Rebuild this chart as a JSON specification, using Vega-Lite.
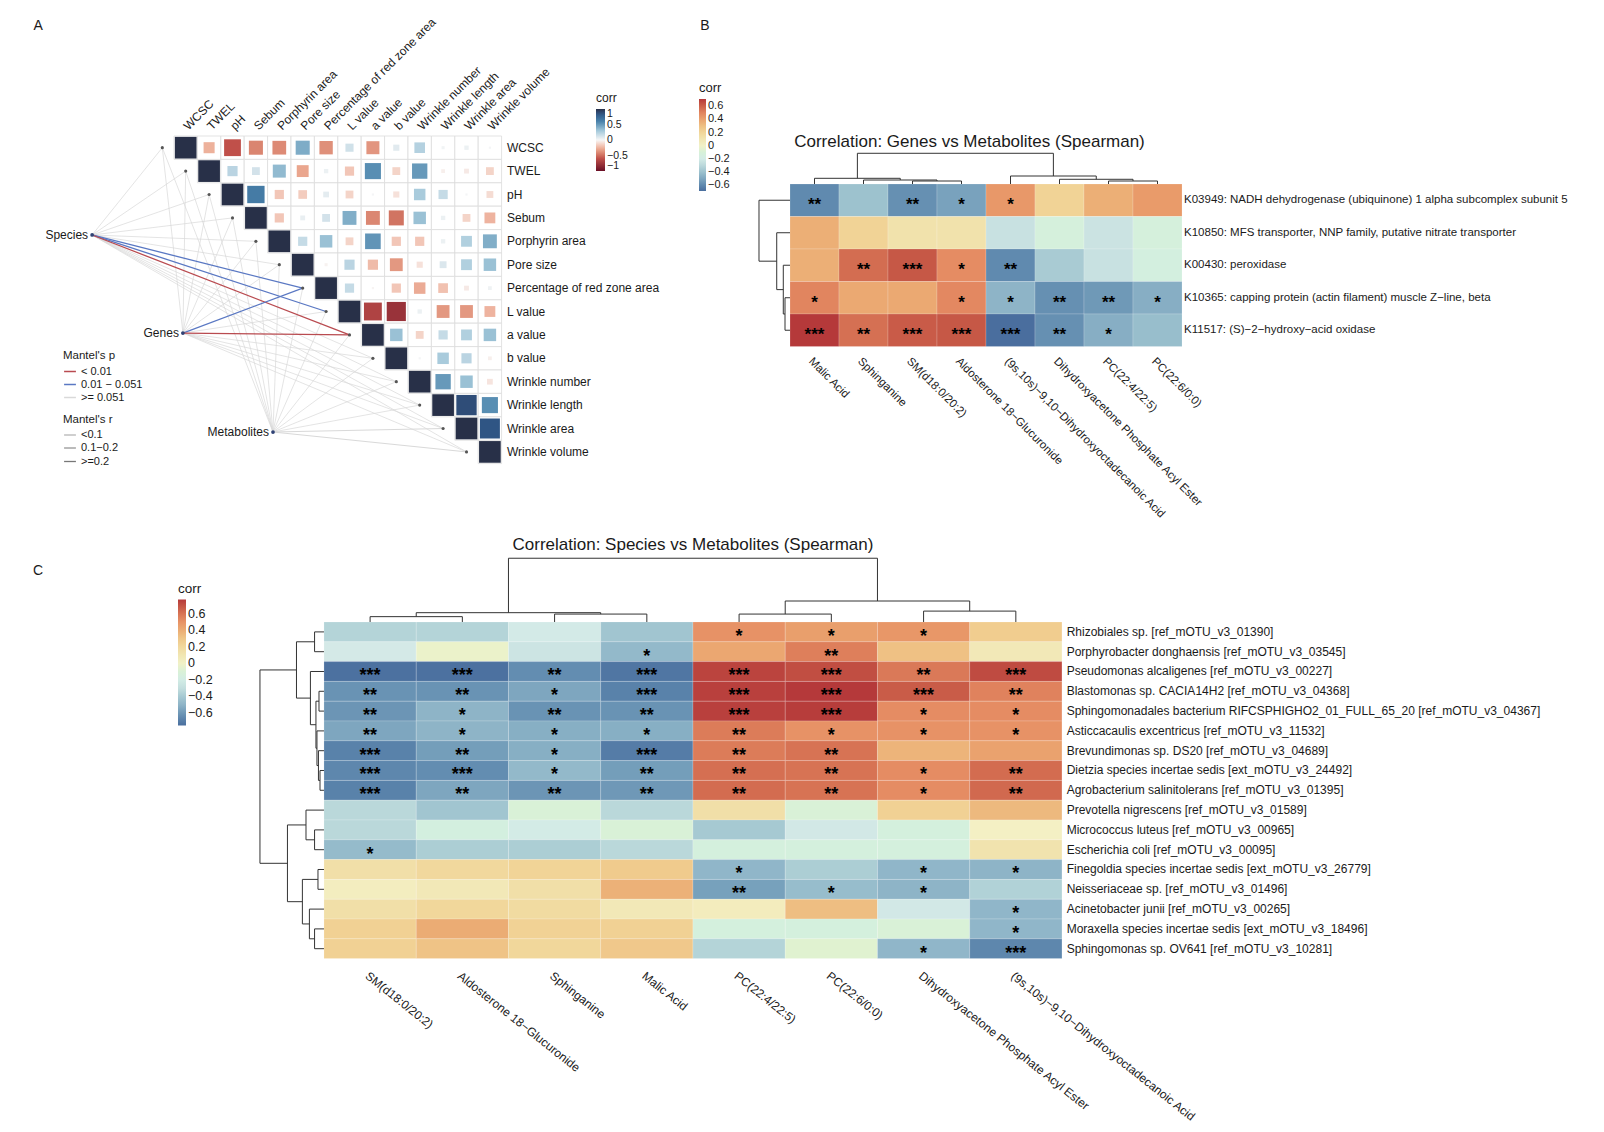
{
"$schema":"https://vega.github.io/schema/vega-lite/v6.json",
"padding":0,
"background":"white",
"spacing":0,
"config":{"view":{"stroke":null},"font":"Liberation Sans","text":{"font":"Liberation Sans","color":"#1a1a1a"},"legend":{"labelFont":"Liberation Sans","titleFont":"Liberation Sans","labelColor":"#1a1a1a","titleColor":"#1a1a1a"}},
"datasets":{
"avars":[{"var":"WCSC","i":0,"ax":-1},{"var":"TWEL","i":1,"ax":0},{"var":"pH","i":2,"ax":1},{"var":"Sebum","i":3,"ax":2},{"var":"Porphyrin area","i":4,"ax":3},{"var":"Pore size","i":5,"ax":4},{"var":"Percentage of red zone area","i":6,"ax":5},{"var":"L value","i":7,"ax":6},{"var":"a value","i":8,"ax":7},{"var":"b value","i":9,"ax":8},{"var":"Wrinkle number","i":10,"ax":9},{"var":"Wrinkle length","i":11,"ax":10},{"var":"Wrinkle area","i":12,"ax":11},{"var":"Wrinkle volume","i":13,"ax":12}],
"mnodes":[{"f":"Species","nx":-4.0,"ny":3.73},{"f":"Genes","nx":-0.12,"ny":7.92},{"f":"Metabolites","nx":3.73,"ny":12.15}],
"amat":[
{"i":0,"j":0,"r":1},{"i":1,"j":1,"r":1},{"i":2,"j":2,"r":1},{"i":3,"j":3,"r":1},{"i":4,"j":4,"r":1},{"i":5,"j":5,"r":1},{"i":6,"j":6,"r":1},{"i":7,"j":7,"r":1},{"i":8,"j":8,"r":1},{"i":9,"j":9,"r":1},{"i":10,"j":10,"r":1},{"i":11,"j":11,"r":1},{"i":12,"j":12,"r":1},{"i":13,"j":13,"r":1},
{"i":0,"j":1,"r":-0.26},{"i":0,"j":2,"r":-0.6},{"i":0,"j":3,"r":-0.42},{"i":0,"j":4,"r":-0.4},{"i":0,"j":5,"r":0.42},{"i":0,"j":6,"r":-0.38},{"i":0,"j":7,"r":0.14},{"i":0,"j":8,"r":-0.36},{"i":0,"j":9,"r":0.08},{"i":0,"j":10,"r":0.24},{"i":0,"j":11,"r":0.02},{"i":0,"j":12,"r":0.04},{"i":0,"j":13,"r":0.01},
{"i":1,"j":2,"r":0.22},{"i":1,"j":3,"r":0.13},{"i":1,"j":4,"r":0.36},{"i":1,"j":5,"r":-0.3},{"i":1,"j":6,"r":0.04},{"i":1,"j":7,"r":-0.18},{"i":1,"j":8,"r":0.55},{"i":1,"j":9,"r":-0.13},{"i":1,"j":10,"r":0.5},{"i":1,"j":11,"r":-0.03},{"i":1,"j":12,"r":-0.05},{"i":1,"j":13,"r":-0.13},
{"i":2,"j":3,"r":0.64},{"i":2,"j":4,"r":-0.18},{"i":2,"j":5,"r":-0.16},{"i":2,"j":6,"r":0.07},{"i":2,"j":7,"r":-0.13},{"i":2,"j":8,"r":0.01},{"i":2,"j":9,"r":-0.08},{"i":2,"j":10,"r":0.28},{"i":2,"j":11,"r":0.18},{"i":2,"j":12,"r":0.01},{"i":2,"j":13,"r":-0.1},
{"i":3,"j":4,"r":-0.18},{"i":3,"j":5,"r":0.05},{"i":3,"j":6,"r":0.13},{"i":3,"j":7,"r":0.41},{"i":3,"j":8,"r":-0.41},{"i":3,"j":9,"r":-0.48},{"i":3,"j":10,"r":0.33},{"i":3,"j":11,"r":0.04},{"i":3,"j":12,"r":-0.13},{"i":3,"j":13,"r":-0.25},
{"i":4,"j":5,"r":0.18},{"i":4,"j":6,"r":0.33},{"i":4,"j":7,"r":-0.13},{"i":4,"j":8,"r":0.52},{"i":4,"j":9,"r":-0.18},{"i":4,"j":10,"r":-0.18},{"i":4,"j":11,"r":0.04},{"i":4,"j":12,"r":0.25},{"i":4,"j":13,"r":0.41},
{"i":5,"j":6,"r":-0.02},{"i":5,"j":7,"r":0.22},{"i":5,"j":8,"r":-0.22},{"i":5,"j":9,"r":-0.35},{"i":5,"j":10,"r":-0.08},{"i":5,"j":11,"r":0.1},{"i":5,"j":12,"r":0.25},{"i":5,"j":13,"r":0.33},
{"i":6,"j":7,"r":0.18},{"i":6,"j":8,"r":-0.01},{"i":6,"j":9,"r":-0.18},{"i":6,"j":10,"r":-0.28},{"i":6,"j":11,"r":-0.2},{"i":6,"j":12,"r":-0.05},{"i":6,"j":13,"r":0.03},
{"i":7,"j":8,"r":-0.68},{"i":7,"j":9,"r":-0.78},{"i":7,"j":10,"r":0.04},{"i":7,"j":11,"r":-0.35},{"i":7,"j":12,"r":-0.35},{"i":7,"j":13,"r":-0.25},
{"i":8,"j":9,"r":0.33},{"i":8,"j":10,"r":-0.13},{"i":8,"j":11,"r":0.18},{"i":8,"j":12,"r":0.25},{"i":8,"j":13,"r":0.33},
{"i":9,"j":10,"r":0.01},{"i":9,"j":11,"r":0.28},{"i":9,"j":12,"r":0.22},{"i":9,"j":13,"r":-0.03},
{"i":10,"j":11,"r":0.5},{"i":10,"j":12,"r":0.33},{"i":10,"j":13,"r":-0.07},
{"i":11,"j":12,"r":0.88},{"i":11,"j":13,"r":0.55},
{"i":12,"j":13,"r":0.85}],
"mantel":[
{"f":"Species","t":"WCSC","p":">= 0.051","w":"<0.1"},{"f":"Species","t":"TWEL","p":">= 0.051","w":"<0.1"},{"f":"Species","t":"pH","p":">= 0.051","w":"<0.1"},{"f":"Species","t":"Sebum","p":">= 0.051","w":"<0.1"},{"f":"Species","t":"Porphyrin area","p":">= 0.051","w":"<0.1"},{"f":"Species","t":"Pore size","p":">= 0.051","w":"<0.1"},{"f":"Species","t":"b value","p":">= 0.051","w":"<0.1"},{"f":"Species","t":"Wrinkle number","p":">= 0.051","w":"<0.1"},{"f":"Species","t":"Wrinkle length","p":">= 0.051","w":"<0.1"},{"f":"Species","t":"Wrinkle area","p":">= 0.051","w":"<0.1"},{"f":"Species","t":"Wrinkle volume","p":">= 0.051","w":"<0.1"},
{"f":"Genes","t":"WCSC","p":">= 0.051","w":"<0.1"},{"f":"Genes","t":"TWEL","p":">= 0.051","w":"<0.1"},{"f":"Genes","t":"pH","p":">= 0.051","w":"<0.1"},{"f":"Genes","t":"Sebum","p":">= 0.051","w":"<0.1"},{"f":"Genes","t":"Porphyrin area","p":">= 0.051","w":"<0.1"},{"f":"Genes","t":"Pore size","p":">= 0.051","w":"<0.1"},{"f":"Genes","t":"L value","p":">= 0.051","w":"<0.1"},{"f":"Genes","t":"b value","p":">= 0.051","w":"<0.1"},{"f":"Genes","t":"Wrinkle number","p":">= 0.051","w":"<0.1"},{"f":"Genes","t":"Wrinkle length","p":">= 0.051","w":"<0.1"},{"f":"Genes","t":"Wrinkle area","p":">= 0.051","w":"<0.1"},{"f":"Genes","t":"Wrinkle volume","p":">= 0.051","w":"<0.1"},
{"f":"Metabolites","t":"WCSC","p":">= 0.051","w":"<0.1"},{"f":"Metabolites","t":"TWEL","p":">= 0.051","w":"<0.1"},{"f":"Metabolites","t":"pH","p":">= 0.051","w":"<0.1"},{"f":"Metabolites","t":"Sebum","p":">= 0.051","w":"<0.1"},{"f":"Metabolites","t":"Porphyrin area","p":">= 0.051","w":"<0.1"},{"f":"Metabolites","t":"Pore size","p":">= 0.051","w":"<0.1"},{"f":"Metabolites","t":"Percentage of red zone area","p":">= 0.051","w":"<0.1"},{"f":"Metabolites","t":"L value","p":">= 0.051","w":"<0.1"},{"f":"Metabolites","t":"a value","p":">= 0.051","w":"<0.1"},{"f":"Metabolites","t":"b value","p":">= 0.051","w":"<0.1"},{"f":"Metabolites","t":"Wrinkle number","p":">= 0.051","w":"<0.1"},{"f":"Metabolites","t":"Wrinkle length","p":">= 0.051","w":"<0.1"},{"f":"Metabolites","t":"Wrinkle area","p":">= 0.051","w":"0.1−0.2"},{"f":"Metabolites","t":"Wrinkle volume","p":">= 0.051","w":"0.1−0.2"},
{"f":"Species","t":"Percentage of red zone area","p":"0.01 − 0.051","w":">=0.2"},{"f":"Species","t":"L value","p":"0.01 − 0.051","w":">=0.2"},{"f":"Species","t":"a value","p":"< 0.01","w":">=0.2"},
{"f":"Genes","t":"Percentage of red zone area","p":"0.01 − 0.051","w":">=0.2"},{"f":"Genes","t":"a value","p":"< 0.01","w":">=0.2"}],
"brows":[{"n":"K03949: NADH dehydrogenase (ubiquinone) 1 alpha subcomplex subunit 5","ri":0},{"n":"K10850: MFS transporter, NNP family, putative nitrate transporter","ri":1},{"n":"K00430: peroxidase","ri":2},{"n":"K10365: capping protein (actin filament) muscle Z−line, beta","ri":3},{"n":"K11517: (S)−2−hydroxy−acid oxidase","ri":4}],
"bcols":[{"n":"Malic Acid","ci":0},{"n":"Sphinganine","ci":1},{"n":"SM(d18:0/20:2)","ci":2},{"n":"Aldosterone 18−Glucuronide","ci":3},{"n":"(9s,10s)−9,10−Dihydroxyoctadecanoic Acid","ci":4},{"n":"Dihydroxyacetone Phosphate Acyl Ester","ci":5},{"n":"PC(22:4/22:5)","ci":6},{"n":"PC(22:6/0:0)","ci":7}],
"bcells":[
{"ri":0,"ci":0,"v":-0.6,"s":"**"},{"ri":0,"ci":1,"v":-0.4,"s":""},{"ri":0,"ci":2,"v":-0.58,"s":"**"},{"ri":0,"ci":3,"v":-0.52,"s":"*"},{"ri":0,"ci":4,"v":0.44,"s":"*"},{"ri":0,"ci":5,"v":0.22,"s":""},{"ri":0,"ci":6,"v":0.36,"s":""},{"ri":0,"ci":7,"v":0.43,"s":""},
{"ri":1,"ci":0,"v":0.36,"s":""},{"ri":1,"ci":1,"v":0.22,"s":""},{"ri":1,"ci":2,"v":0.12,"s":""},{"ri":1,"ci":3,"v":0.12,"s":""},{"ri":1,"ci":4,"v":-0.26,"s":""},{"ri":1,"ci":5,"v":-0.12,"s":""},{"ri":1,"ci":6,"v":-0.25,"s":""},{"ri":1,"ci":7,"v":-0.12,"s":""},
{"ri":2,"ci":0,"v":0.36,"s":""},{"ri":2,"ci":1,"v":0.57,"s":"**"},{"ri":2,"ci":2,"v":0.63,"s":"***"},{"ri":2,"ci":3,"v":0.48,"s":"*"},{"ri":2,"ci":4,"v":-0.6,"s":"**"},{"ri":2,"ci":5,"v":-0.36,"s":""},{"ri":2,"ci":6,"v":-0.26,"s":""},{"ri":2,"ci":7,"v":-0.14,"s":""},
{"ri":3,"ci":0,"v":0.5,"s":"*"},{"ri":3,"ci":1,"v":0.38,"s":""},{"ri":3,"ci":2,"v":0.38,"s":""},{"ri":3,"ci":3,"v":0.49,"s":"*"},{"ri":3,"ci":4,"v":-0.46,"s":"*"},{"ri":3,"ci":5,"v":-0.58,"s":"**"},{"ri":3,"ci":6,"v":-0.55,"s":"**"},{"ri":3,"ci":7,"v":-0.48,"s":"*"},
{"ri":4,"ci":0,"v":0.71,"s":"***"},{"ri":4,"ci":1,"v":0.56,"s":"**"},{"ri":4,"ci":2,"v":0.62,"s":"***"},{"ri":4,"ci":3,"v":0.63,"s":"***"},{"ri":4,"ci":4,"v":-0.69,"s":"***"},{"ri":4,"ci":5,"v":-0.58,"s":"**"},{"ri":4,"ci":6,"v":-0.48,"s":"*"},{"ri":4,"ci":7,"v":-0.42,"s":""}],
"bcd":[{"a":2,"b":3,"ha":-0.5,"hb":-0.5,"h":-0.592},{"a":1,"b":2.5,"ha":-0.5,"hb":-0.592,"h":-0.623},{"a":0,"b":1.75,"ha":-0.5,"hb":-0.623,"h":-0.675},{"a":6,"b":7,"ha":-0.5,"hb":-0.5,"h":-0.592},{"a":5,"b":6.5,"ha":-0.5,"hb":-0.592,"h":-0.645},{"a":4,"b":5.75,"ha":-0.5,"hb":-0.645,"h":-0.746},{"a":0.875,"b":4.875,"ha":-0.675,"hb":-0.746,"h":-1.445}],
"brd":[{"a":3,"b":4,"ha":-0.5,"hb":-0.5,"h":-0.602},{"a":2,"b":3.5,"ha":-0.5,"hb":-0.602,"h":-0.637},{"a":1,"b":2.75,"ha":-0.5,"hb":-0.637,"h":-0.771},{"a":0,"b":1.875,"ha":-0.5,"hb":-0.771,"h":-1.133}],
"crows":[{"n":"Rhizobiales sp. [ref_mOTU_v3_01390]","ri":0},{"n":"Porphyrobacter donghaensis [ref_mOTU_v3_03545]","ri":1},{"n":"Pseudomonas alcaligenes [ref_mOTU_v3_00227]","ri":2},{"n":"Blastomonas sp. CACIA14H2 [ref_mOTU_v3_04368]","ri":3},{"n":"Sphingomonadales bacterium RIFCSPHIGHO2_01_FULL_65_20 [ref_mOTU_v3_04367]","ri":4},{"n":"Asticcacaulis excentricus [ref_mOTU_v3_11532]","ri":5},{"n":"Brevundimonas sp. DS20 [ref_mOTU_v3_04689]","ri":6},{"n":"Dietzia species incertae sedis [ext_mOTU_v3_24492]","ri":7},{"n":"Agrobacterium salinitolerans [ref_mOTU_v3_01395]","ri":8},{"n":"Prevotella nigrescens [ref_mOTU_v3_01589]","ri":9},{"n":"Micrococcus luteus [ref_mOTU_v3_00965]","ri":10},{"n":"Escherichia coli [ref_mOTU_v3_00095]","ri":11},{"n":"Finegoldia species incertae sedis [ext_mOTU_v3_26779]","ri":12},{"n":"Neisseriaceae sp. [ref_mOTU_v3_01496]","ri":13},{"n":"Acinetobacter junii [ref_mOTU_v3_00265]","ri":14},{"n":"Moraxella species incertae sedis [ext_mOTU_v3_18496]","ri":15},{"n":"Sphingomonas sp. OV641 [ref_mOTU_v3_10281]","ri":16}],
"ccols":[{"n":"SM(d18:0/20:2)","ci":0},{"n":"Aldosterone 18−Glucuronide","ci":1},{"n":"Sphinganine","ci":2},{"n":"Malic Acid","ci":3},{"n":"PC(22:4/22:5)","ci":4},{"n":"PC(22:6/0:0)","ci":5},{"n":"Dihydroxyacetone Phosphate Acyl Ester","ci":6},{"n":"(9s,10s)−9,10−Dihydroxyoctadecanoic Acid","ci":7}],
"ccells":[
{"ri":0,"ci":0,"v":-0.35,"s":""},{"ri":0,"ci":1,"v":-0.35,"s":""},{"ri":0,"ci":2,"v":-0.23,"s":""},{"ri":0,"ci":3,"v":-0.42,"s":""},{"ri":0,"ci":4,"v":0.5,"s":"*"},{"ri":0,"ci":5,"v":0.45,"s":"*"},{"ri":0,"ci":6,"v":0.48,"s":"*"},{"ri":0,"ci":7,"v":0.27,"s":""},
{"ri":1,"ci":0,"v":-0.24,"s":""},{"ri":1,"ci":1,"v":-0.02,"s":""},{"ri":1,"ci":2,"v":-0.27,"s":""},{"ri":1,"ci":3,"v":-0.48,"s":"*"},{"ri":1,"ci":4,"v":0.42,"s":""},{"ri":1,"ci":5,"v":0.56,"s":"**"},{"ri":1,"ci":6,"v":0.32,"s":""},{"ri":1,"ci":7,"v":0.08,"s":""},
{"ri":2,"ci":0,"v":-0.74,"s":"***"},{"ri":2,"ci":1,"v":-0.74,"s":"***"},{"ri":2,"ci":2,"v":-0.64,"s":"**"},{"ri":2,"ci":3,"v":-0.72,"s":"***"},{"ri":2,"ci":4,"v":0.74,"s":"***"},{"ri":2,"ci":5,"v":0.71,"s":"***"},{"ri":2,"ci":6,"v":0.58,"s":"**"},{"ri":2,"ci":7,"v":0.72,"s":"***"},
{"ri":3,"ci":0,"v":-0.62,"s":"**"},{"ri":3,"ci":1,"v":-0.62,"s":"**"},{"ri":3,"ci":2,"v":-0.55,"s":"*"},{"ri":3,"ci":3,"v":-0.68,"s":"***"},{"ri":3,"ci":4,"v":0.75,"s":"***"},{"ri":3,"ci":5,"v":0.77,"s":"***"},{"ri":3,"ci":6,"v":0.67,"s":"***"},{"ri":3,"ci":7,"v":0.55,"s":"**"},
{"ri":4,"ci":0,"v":-0.61,"s":"**"},{"ri":4,"ci":1,"v":-0.5,"s":"*"},{"ri":4,"ci":2,"v":-0.62,"s":"**"},{"ri":4,"ci":3,"v":-0.62,"s":"**"},{"ri":4,"ci":4,"v":0.75,"s":"***"},{"ri":4,"ci":5,"v":0.76,"s":"***"},{"ri":4,"ci":6,"v":0.52,"s":"*"},{"ri":4,"ci":7,"v":0.52,"s":"*"},
{"ri":5,"ci":0,"v":-0.55,"s":"**"},{"ri":5,"ci":1,"v":-0.5,"s":"*"},{"ri":5,"ci":2,"v":-0.52,"s":"*"},{"ri":5,"ci":3,"v":-0.52,"s":"*"},{"ri":5,"ci":4,"v":0.57,"s":"**"},{"ri":5,"ci":5,"v":0.5,"s":"*"},{"ri":5,"ci":6,"v":0.5,"s":"*"},{"ri":5,"ci":7,"v":0.5,"s":"*"},
{"ri":6,"ci":0,"v":-0.68,"s":"***"},{"ri":6,"ci":1,"v":-0.58,"s":"**"},{"ri":6,"ci":2,"v":-0.52,"s":"*"},{"ri":6,"ci":3,"v":-0.7,"s":"***"},{"ri":6,"ci":4,"v":0.57,"s":"**"},{"ri":6,"ci":5,"v":0.6,"s":"**"},{"ri":6,"ci":6,"v":0.37,"s":""},{"ri":6,"ci":7,"v":0.44,"s":""},
{"ri":7,"ci":0,"v":-0.66,"s":"***"},{"ri":7,"ci":1,"v":-0.64,"s":"***"},{"ri":7,"ci":2,"v":-0.48,"s":"*"},{"ri":7,"ci":3,"v":-0.58,"s":"**"},{"ri":7,"ci":4,"v":0.61,"s":"**"},{"ri":7,"ci":5,"v":0.6,"s":"**"},{"ri":7,"ci":6,"v":0.52,"s":"*"},{"ri":7,"ci":7,"v":0.62,"s":"**"},
{"ri":8,"ci":0,"v":-0.68,"s":"***"},{"ri":8,"ci":1,"v":-0.55,"s":"**"},{"ri":8,"ci":2,"v":-0.61,"s":"**"},{"ri":8,"ci":3,"v":-0.6,"s":"**"},{"ri":8,"ci":4,"v":0.62,"s":"**"},{"ri":8,"ci":5,"v":0.6,"s":"**"},{"ri":8,"ci":6,"v":0.52,"s":"*"},{"ri":8,"ci":7,"v":0.63,"s":"**"},
{"ri":9,"ci":0,"v":-0.33,"s":""},{"ri":9,"ci":1,"v":-0.42,"s":""},{"ri":9,"ci":2,"v":-0.1,"s":""},{"ri":9,"ci":3,"v":-0.33,"s":""},{"ri":9,"ci":4,"v":0.15,"s":""},{"ri":9,"ci":5,"v":-0.1,"s":""},{"ri":9,"ci":6,"v":0.25,"s":""},{"ri":9,"ci":7,"v":0.35,"s":""},
{"ri":10,"ci":0,"v":-0.33,"s":""},{"ri":10,"ci":1,"v":-0.15,"s":""},{"ri":10,"ci":2,"v":-0.22,"s":""},{"ri":10,"ci":3,"v":-0.1,"s":""},{"ri":10,"ci":4,"v":-0.4,"s":""},{"ri":10,"ci":5,"v":-0.25,"s":""},{"ri":10,"ci":6,"v":-0.14,"s":""},{"ri":10,"ci":7,"v":0.02,"s":""},
{"ri":11,"ci":0,"v":-0.47,"s":"*"},{"ri":11,"ci":1,"v":-0.38,"s":""},{"ri":11,"ci":2,"v":-0.38,"s":""},{"ri":11,"ci":3,"v":-0.33,"s":""},{"ri":11,"ci":4,"v":-0.14,"s":""},{"ri":11,"ci":5,"v":-0.14,"s":""},{"ri":11,"ci":6,"v":-0.14,"s":""},{"ri":11,"ci":7,"v":0.12,"s":""},
{"ri":12,"ci":0,"v":0.15,"s":""},{"ri":12,"ci":1,"v":0.2,"s":""},{"ri":12,"ci":2,"v":0.23,"s":""},{"ri":12,"ci":3,"v":0.28,"s":""},{"ri":12,"ci":4,"v":-0.49,"s":"*"},{"ri":12,"ci":5,"v":-0.38,"s":""},{"ri":12,"ci":6,"v":-0.49,"s":"*"},{"ri":12,"ci":7,"v":-0.5,"s":"*"},
{"ri":13,"ci":0,"v":0.04,"s":""},{"ri":13,"ci":1,"v":0.08,"s":""},{"ri":13,"ci":2,"v":0.15,"s":""},{"ri":13,"ci":3,"v":0.38,"s":""},{"ri":13,"ci":4,"v":-0.57,"s":"**"},{"ri":13,"ci":5,"v":-0.46,"s":"*"},{"ri":13,"ci":6,"v":-0.5,"s":"*"},{"ri":13,"ci":7,"v":-0.36,"s":""},
{"ri":14,"ci":0,"v":0.15,"s":""},{"ri":14,"ci":1,"v":0.21,"s":""},{"ri":14,"ci":2,"v":0.18,"s":""},{"ri":14,"ci":3,"v":0.08,"s":""},{"ri":14,"ci":4,"v":0.05,"s":""},{"ri":14,"ci":5,"v":0.33,"s":""},{"ri":14,"ci":6,"v":-0.25,"s":""},{"ri":14,"ci":7,"v":-0.49,"s":"*"},
{"ri":15,"ci":0,"v":0.25,"s":""},{"ri":15,"ci":1,"v":0.4,"s":""},{"ri":15,"ci":2,"v":0.24,"s":""},{"ri":15,"ci":3,"v":0.25,"s":""},{"ri":15,"ci":4,"v":-0.14,"s":""},{"ri":15,"ci":5,"v":-0.14,"s":""},{"ri":15,"ci":6,"v":-0.1,"s":""},{"ri":15,"ci":7,"v":-0.49,"s":"*"},
{"ri":16,"ci":0,"v":0.25,"s":""},{"ri":16,"ci":1,"v":0.31,"s":""},{"ri":16,"ci":2,"v":0.21,"s":""},{"ri":16,"ci":3,"v":0.29,"s":""},{"ri":16,"ci":4,"v":-0.35,"s":""},{"ri":16,"ci":5,"v":-0.06,"s":""},{"ri":16,"ci":6,"v":-0.49,"s":"*"},{"ri":16,"ci":7,"v":-0.66,"s":"***"}],
"ccd":[{"a":0,"b":1,"ha":-0.5,"hb":-0.5,"h":-0.77},{"a":2,"b":3,"ha":-0.5,"hb":-0.5,"h":-0.9},{"a":0.5,"b":2.5,"ha":-0.77,"hb":-0.9,"h":-0.97},{"a":4,"b":5,"ha":-0.5,"hb":-0.5,"h":-0.9},{"a":6,"b":7,"ha":-0.5,"hb":-0.5,"h":-1.05},{"a":4.5,"b":6.5,"ha":-0.9,"hb":-1.05,"h":-1.56},{"a":1.5,"b":5.5,"ha":-0.97,"hb":-1.56,"h":-3.72}],
"crd":[{"a":0,"b":1,"ha":-0.5,"hb":-0.5,"h":-0.602},{"a":3,"b":4,"ha":-0.5,"hb":-0.5,"h":-0.554},{"a":7,"b":8,"ha":-0.5,"hb":-0.5,"h":-0.543},{"a":6,"b":7.5,"ha":-0.5,"hb":-0.543,"h":-0.56},{"a":5,"b":6.75,"ha":-0.5,"hb":-0.56,"h":-0.576},{"a":3.5,"b":5.875,"ha":-0.554,"hb":-0.576,"h":-0.587},{"a":2,"b":4.6875,"ha":-0.5,"hb":-0.587,"h":-0.647},{"a":0.5,"b":3.34375,"ha":-0.602,"hb":-0.647,"h":-0.798},{"a":10,"b":11,"ha":-0.5,"hb":-0.5,"h":-0.602},{"a":9,"b":10.5,"ha":-0.5,"hb":-0.602,"h":-0.695},{"a":12,"b":13,"ha":-0.5,"hb":-0.5,"h":-0.565},{"a":15,"b":16,"ha":-0.5,"hb":-0.5,"h":-0.602},{"a":14,"b":15.5,"ha":-0.5,"hb":-0.602,"h":-0.658},{"a":12.5,"b":14.75,"ha":-0.565,"hb":-0.658,"h":-0.734},{"a":9.75,"b":13.625,"ha":-0.695,"hb":-0.734,"h":-0.896},{"a":1.921875,"b":11.6875,"ha":-0.798,"hb":-0.896,"h":-1.194}]
},
"resolve":{"scale":{"fill":"independent","stroke":"independent","strokeWidth":"independent","size":"independent"},"legend":{"fill":"independent"}},
"vconcat":[
{"hconcat":[
{"width":680,"height":535,
"layer":[
{"data":{"name":"amat"},"mark":{"type":"square","filled":true,"fill":"#ffffff","stroke":"#dcdcdc","strokeWidth":0.8,"size":547,"opacity":1},
"encoding":{"x":{"field":"j","type":"quantitative","scale":{"domain":[-7.936,21.124],"nice":false,"zero":false},"axis":null},"y":{"field":"i","type":"quantitative","scale":{"domain":[-6.312,16.551],"nice":false,"zero":false,"reverse":true},"axis":null}}},
{"data":{"name":"amat"},"mark":{"type":"square","filled":true,"opacity":1},
"encoding":{"x":{"field":"j","type":"quantitative","scale":{"domain":[-7.936,21.124],"nice":false,"zero":false},"axis":null},"y":{"field":"i","type":"quantitative","scale":{"domain":[-6.312,16.551],"nice":false,"zero":false,"reverse":true},"axis":null},
"fill":{"field":"r","type":"quantitative","scale":{"domain":[-1,-0.6,-0.3,0,0.3,0.6,0.85,1],"range":["#6a0f26","#c0504a","#eaa68e","#f7f7f7","#a3c8da","#4a82ab","#2f5584","#283048"]},"legend":{"title":"corr","orient":"none","legendX":596,"legendY":93,"direction":"vertical","gradientLength":62,"gradientThickness":9,"values":[1,0.5,0,-0.5,-1],"format":".1~f","titleFontSize":12,"titleFontWeight":"normal","labelFontSize":10.5,"titlePadding":4,"gradientStrokeWidth":0}},
"size":{"field":"r","type":"quantitative","scale":{"domain":[-1,0,1],"range":[470,0,470]},"legend":null}}},
{"data":{"name":"mantel"},"transform":[{"lookup":"f","from":{"data":{"values":[{"f":"Species","nx":-4.0,"ny":3.73},{"f":"Genes","nx":-0.12,"ny":7.92},{"f":"Metabolites","nx":3.73,"ny":12.15}]},"key":"f","fields":["nx","ny"]}},{"lookup":"t","from":{"data":{"values":[{"var":"WCSC","i":0,"ax":-1},{"var":"TWEL","i":1,"ax":0},{"var":"pH","i":2,"ax":1},{"var":"Sebum","i":3,"ax":2},{"var":"Porphyrin area","i":4,"ax":3},{"var":"Pore size","i":5,"ax":4},{"var":"Percentage of red zone area","i":6,"ax":5},{"var":"L value","i":7,"ax":6},{"var":"a value","i":8,"ax":7},{"var":"b value","i":9,"ax":8},{"var":"Wrinkle number","i":10,"ax":9},{"var":"Wrinkle length","i":11,"ax":10},{"var":"Wrinkle area","i":12,"ax":11},{"var":"Wrinkle volume","i":13,"ax":12}]},"key":"var","fields":["i","ax"]}}],
"mark":{"type":"rule"},
"encoding":{"x":{"field":"nx","type":"quantitative","scale":{"domain":[-7.936,21.124],"nice":false,"zero":false},"axis":null},"y":{"field":"ny","type":"quantitative","scale":{"domain":[-6.312,16.551],"nice":false,"zero":false,"reverse":true},"axis":null},"x2":{"field":"ax"},"y2":{"field":"i"},
"stroke":{"field":"p","type":"nominal","scale":{"domain":["< 0.01","0.01 − 0.051",">= 0.051"],"range":["#b94b50","#5a78c3","#d9d9d9"]},"legend":{"title":"Mantel's p","orient":"none","legendX":63,"legendY":350,"symbolType":"stroke","symbolSize":140,"symbolStrokeWidth":1.5,"titleFontSize":11.5,"titleFontWeight":"normal","labelFontSize":11,"rowPadding":1,"titlePadding":3}},
"strokeWidth":{"field":"w","type":"ordinal","scale":{"domain":["<0.1","0.1−0.2",">=0.2"],"range":[0.7,1.3,2.1]},"legend":{"title":"Mantel's r","orient":"none","legendX":63,"legendY":414,"symbolType":"stroke","symbolSize":140,"symbolStrokeColor":"#777777","titleFontSize":11.5,"titleFontWeight":"normal","labelFontSize":11,"rowPadding":1,"titlePadding":3}}}},
{"data":{"name":"avars"},"mark":{"type":"circle","size":10,"color":"#555555","opacity":1},
"encoding":{"x":{"field":"ax","type":"quantitative","scale":{"domain":[-7.936,21.124],"nice":false,"zero":false},"axis":null},"y":{"field":"i","type":"quantitative","scale":{"domain":[-6.312,16.551],"nice":false,"zero":false,"reverse":true},"axis":null}}},
{"data":{"name":"mnodes"},"mark":{"type":"circle","size":14,"color":"#2f4275","opacity":1},
"encoding":{"x":{"field":"nx","type":"quantitative","scale":{"domain":[-7.936,21.124],"nice":false,"zero":false},"axis":null},"y":{"field":"ny","type":"quantitative","scale":{"domain":[-6.312,16.551],"nice":false,"zero":false,"reverse":true},"axis":null}}},
{"data":{"name":"mnodes"},"mark":{"type":"text","align":"right","baseline":"middle","dx":-4,"fontSize":12},
"encoding":{"x":{"field":"nx","type":"quantitative","scale":{"domain":[-7.936,21.124],"nice":false,"zero":false},"axis":null},"y":{"field":"ny","type":"quantitative","scale":{"domain":[-6.312,16.551],"nice":false,"zero":false,"reverse":true},"axis":null},"text":{"field":"f"}}},
{"data":{"name":"avars"},"mark":{"type":"text","align":"left","baseline":"middle","fontSize":12},
"encoding":{"x":{"datum":13.73,"type":"quantitative","scale":{"domain":[-7.936,21.124],"nice":false,"zero":false},"axis":null},"y":{"field":"i","type":"quantitative","scale":{"domain":[-6.312,16.551],"nice":false,"zero":false,"reverse":true},"axis":null},"text":{"field":"var"}}},
{"data":{"name":"avars"},"mark":{"type":"text","align":"left","baseline":"middle","angle":315,"fontSize":12},
"encoding":{"x":{"field":"i","type":"quantitative","scale":{"domain":[-7.936,21.124],"nice":false,"zero":false},"axis":null},"y":{"datum":-0.85,"type":"quantitative","scale":{"domain":[-6.312,16.551],"nice":false,"zero":false,"reverse":true},"axis":null},"text":{"field":"var"}}},
{"data":{"values":[{"t":"A"}]},"mark":{"type":"text","align":"left","baseline":"middle","fontSize":14},
"encoding":{"x":{"datum":-6.5,"type":"quantitative","scale":{"domain":[-7.936,21.124],"nice":false,"zero":false},"axis":null},"y":{"datum":-5.2,"type":"quantitative","scale":{"domain":[-6.312,16.551],"nice":false,"zero":false,"reverse":true},"axis":null},"text":{"field":"t"}}}
]},
{"width":924,"height":535,
"layer":[
{"data":{"name":"bcells"},"mark":{"type":"point","shape":"M-1,-0.6633H1V0.6633H-1Z","size":2401,"filled":true,"opacity":1,"stroke":"#ffffff","strokeWidth":0.5,"strokeOpacity":0.35},
"encoding":{"x":{"field":"ci","type":"quantitative","scale":{"domain":[-2.745,16.112],"nice":false,"zero":false},"axis":null},"y":{"field":"ri","type":"quantitative","scale":{"domain":[-6.1615,10.3],"nice":false,"zero":false,"reverse":true},"axis":null},
"fill":{"field":"v","type":"quantitative","scale":{"domain":[-0.69,-0.4567,-0.2233,0.01,0.2433,0.4767,0.71],"range":["#4a6e9e","#8fb5c8","#d4e9e7","#f4f1c6","#f1cf91","#e68d64","#b5393a"],"clamp":true},"legend":{"title":"corr","orient":"none","legendX":19,"legendY":82,"direction":"vertical","gradientLength":92,"gradientThickness":7,"values":[0.6,0.4,0.2,0,-0.2,-0.4,-0.6],"format":".1~f","titleFontSize":13,"titleFontWeight":"normal","labelFontSize":11,"titlePadding":4,"labelOffset":2,"gradientStrokeWidth":0}}}},
{"data":{"name":"bcells"},"mark":{"type":"text","align":"center","baseline":"middle","dy":5,"fontSize":17,"fontWeight":"bold","color":"#000000"},
"encoding":{"x":{"field":"ci","type":"quantitative","scale":{"domain":[-2.745,16.112],"nice":false,"zero":false},"axis":null},"y":{"field":"ri","type":"quantitative","scale":{"domain":[-6.1615,10.3],"nice":false,"zero":false,"reverse":true},"axis":null},"text":{"field":"s"}}},
{"data":{"name":"brows"},"mark":{"type":"text","align":"left","baseline":"middle","fontSize":11.5},
"encoding":{"x":{"datum":7.541,"type":"quantitative","scale":{"domain":[-2.745,16.112],"nice":false,"zero":false},"axis":null},"y":{"field":"ri","type":"quantitative","scale":{"domain":[-6.1615,10.3],"nice":false,"zero":false,"reverse":true},"axis":null},"text":{"field":"n"}}},
{"data":{"name":"bcols"},"mark":{"type":"text","align":"left","baseline":"top","angle":45,"fontSize":11.5},
"encoding":{"x":{"field":"ci","type":"quantitative","scale":{"domain":[-2.745,16.112],"nice":false,"zero":false},"axis":null},"y":{"datum":4.78,"type":"quantitative","scale":{"domain":[-6.1615,10.3],"nice":false,"zero":false,"reverse":true},"axis":null},"text":{"field":"n"}}},
{"data":{"name":"bcd"},"mark":{"type":"rule","color":"#333333","strokeWidth":1},
"encoding":{"x":{"field":"a","type":"quantitative","scale":{"domain":[-2.745,16.112],"nice":false,"zero":false},"axis":null},"y":{"field":"ha","type":"quantitative","scale":{"domain":[-6.1615,10.3],"nice":false,"zero":false,"reverse":true},"axis":null},"y2":{"field":"h"}}},
{"data":{"name":"bcd"},"mark":{"type":"rule","color":"#333333","strokeWidth":1},
"encoding":{"x":{"field":"b","type":"quantitative","scale":{"domain":[-2.745,16.112],"nice":false,"zero":false},"axis":null},"y":{"field":"hb","type":"quantitative","scale":{"domain":[-6.1615,10.3],"nice":false,"zero":false,"reverse":true},"axis":null},"y2":{"field":"h"}}},
{"data":{"name":"bcd"},"mark":{"type":"rule","color":"#333333","strokeWidth":1},
"encoding":{"x":{"field":"a","type":"quantitative","scale":{"domain":[-2.745,16.112],"nice":false,"zero":false},"axis":null},"x2":{"field":"b"},"y":{"field":"h","type":"quantitative","scale":{"domain":[-6.1615,10.3],"nice":false,"zero":false,"reverse":true},"axis":null}}},
{"data":{"name":"brd"},"mark":{"type":"rule","color":"#333333","strokeWidth":1},
"encoding":{"y":{"field":"a","type":"quantitative","scale":{"domain":[-6.1615,10.3],"nice":false,"zero":false,"reverse":true},"axis":null},"x":{"field":"ha","type":"quantitative","scale":{"domain":[-2.745,16.112],"nice":false,"zero":false},"axis":null},"x2":{"field":"h"}}},
{"data":{"name":"brd"},"mark":{"type":"rule","color":"#333333","strokeWidth":1},
"encoding":{"y":{"field":"b","type":"quantitative","scale":{"domain":[-6.1615,10.3],"nice":false,"zero":false,"reverse":true},"axis":null},"x":{"field":"hb","type":"quantitative","scale":{"domain":[-2.745,16.112],"nice":false,"zero":false},"axis":null},"x2":{"field":"h"}}},
{"data":{"name":"brd"},"mark":{"type":"rule","color":"#333333","strokeWidth":1},
"encoding":{"y":{"field":"a","type":"quantitative","scale":{"domain":[-6.1615,10.3],"nice":false,"zero":false,"reverse":true},"axis":null},"y2":{"field":"b"},"x":{"field":"h","type":"quantitative","scale":{"domain":[-2.745,16.112],"nice":false,"zero":false},"axis":null}}},
{"data":{"values":[{"t":"Correlation: Genes vs Metabolites (Spearman)"}]},"mark":{"type":"text","align":"center","baseline":"middle","fontSize":17},
"encoding":{"x":{"datum":3.163,"type":"quantitative","scale":{"domain":[-2.745,16.112],"nice":false,"zero":false},"axis":null},"y":{"datum":-1.8,"type":"quantitative","scale":{"domain":[-6.1615,10.3],"nice":false,"zero":false,"reverse":true},"axis":null},"text":{"field":"t"}}},
{"data":{"values":[{"t":"B"}]},"mark":{"type":"text","align":"left","baseline":"middle","fontSize":14},
"encoding":{"x":{"datum":-2.33,"type":"quantitative","scale":{"domain":[-2.745,16.112],"nice":false,"zero":false},"axis":null},"y":{"datum":-5.36,"type":"quantitative","scale":{"domain":[-6.1615,10.3],"nice":false,"zero":false,"reverse":true},"axis":null},"text":{"field":"t"}}}
]}
],"spacing":0,"resolve":{"scale":{"fill":"independent","stroke":"independent","strokeWidth":"independent","size":"independent"},"legend":{"fill":"independent"}}},
{"width":1604,"height":597,
"layer":[
{"data":{"name":"ccells"},"mark":{"type":"point","shape":"M-1,-0.2146H1V0.2146H-1Z","size":8510,"filled":true,"opacity":1,"stroke":"#ffffff","strokeWidth":0.5,"strokeOpacity":0.35},
"encoding":{"x":{"field":"ci","type":"quantitative","scale":{"domain":[-4.012,13.376],"nice":false,"zero":false},"axis":null},"y":{"field":"ri","type":"quantitative","scale":{"domain":[-4.641,25.51],"nice":false,"zero":false,"reverse":true},"axis":null},
"fill":{"field":"v","type":"quantitative","scale":{"domain":[-0.75,-0.4967,-0.2433,0.01,0.2633,0.5167,0.77],"range":["#4a6e9e","#8fb5c8","#d4e9e7","#f4f1c6","#f1cf91","#e68d64","#b5393a"],"clamp":true},"legend":{"title":"corr","orient":"none","legendX":178,"legendY":42,"direction":"vertical","gradientLength":126,"gradientThickness":8,"values":[0.6,0.4,0.2,0,-0.2,-0.4,-0.6],"format":".1~f","titleFontSize":13.5,"titleFontWeight":"normal","labelFontSize":12.5,"titlePadding":4,"labelOffset":2,"gradientStrokeWidth":0}}}},
{"data":{"name":"ccells"},"mark":{"type":"text","align":"center","baseline":"middle","dy":5,"fontSize":18,"fontWeight":"bold","color":"#000000"},
"encoding":{"x":{"field":"ci","type":"quantitative","scale":{"domain":[-4.012,13.376],"nice":false,"zero":false},"axis":null},"y":{"field":"ri","type":"quantitative","scale":{"domain":[-4.641,25.51],"nice":false,"zero":false,"reverse":true},"axis":null},"text":{"field":"s"}}},
{"data":{"name":"crows"},"mark":{"type":"text","align":"left","baseline":"middle","fontSize":12},
"encoding":{"x":{"datum":7.551,"type":"quantitative","scale":{"domain":[-4.012,13.376],"nice":false,"zero":false},"axis":null},"y":{"field":"ri","type":"quantitative","scale":{"domain":[-4.641,25.51],"nice":false,"zero":false,"reverse":true},"axis":null},"text":{"field":"n"}}},
{"data":{"name":"ccols"},"mark":{"type":"text","align":"left","baseline":"top","angle":38.5,"fontSize":12},
"encoding":{"x":{"field":"ci","type":"quantitative","scale":{"domain":[-4.012,13.376],"nice":false,"zero":false},"axis":null},"y":{"datum":17.1,"type":"quantitative","scale":{"domain":[-4.641,25.51],"nice":false,"zero":false,"reverse":true},"axis":null},"text":{"field":"n"}}},
{"data":{"name":"ccd"},"mark":{"type":"rule","color":"#333333","strokeWidth":1},
"encoding":{"x":{"field":"a","type":"quantitative","scale":{"domain":[-4.012,13.376],"nice":false,"zero":false},"axis":null},"y":{"field":"ha","type":"quantitative","scale":{"domain":[-4.641,25.51],"nice":false,"zero":false,"reverse":true},"axis":null},"y2":{"field":"h"}}},
{"data":{"name":"ccd"},"mark":{"type":"rule","color":"#333333","strokeWidth":1},
"encoding":{"x":{"field":"b","type":"quantitative","scale":{"domain":[-4.012,13.376],"nice":false,"zero":false},"axis":null},"y":{"field":"hb","type":"quantitative","scale":{"domain":[-4.641,25.51],"nice":false,"zero":false,"reverse":true},"axis":null},"y2":{"field":"h"}}},
{"data":{"name":"ccd"},"mark":{"type":"rule","color":"#333333","strokeWidth":1},
"encoding":{"x":{"field":"a","type":"quantitative","scale":{"domain":[-4.012,13.376],"nice":false,"zero":false},"axis":null},"x2":{"field":"b"},"y":{"field":"h","type":"quantitative","scale":{"domain":[-4.641,25.51],"nice":false,"zero":false,"reverse":true},"axis":null}}},
{"data":{"name":"crd"},"mark":{"type":"rule","color":"#333333","strokeWidth":1},
"encoding":{"y":{"field":"a","type":"quantitative","scale":{"domain":[-4.641,25.51],"nice":false,"zero":false,"reverse":true},"axis":null},"x":{"field":"ha","type":"quantitative","scale":{"domain":[-4.012,13.376],"nice":false,"zero":false},"axis":null},"x2":{"field":"h"}}},
{"data":{"name":"crd"},"mark":{"type":"rule","color":"#333333","strokeWidth":1},
"encoding":{"y":{"field":"b","type":"quantitative","scale":{"domain":[-4.641,25.51],"nice":false,"zero":false,"reverse":true},"axis":null},"x":{"field":"hb","type":"quantitative","scale":{"domain":[-4.012,13.376],"nice":false,"zero":false},"axis":null},"x2":{"field":"h"}}},
{"data":{"name":"crd"},"mark":{"type":"rule","color":"#333333","strokeWidth":1},
"encoding":{"y":{"field":"a","type":"quantitative","scale":{"domain":[-4.641,25.51],"nice":false,"zero":false,"reverse":true},"axis":null},"y2":{"field":"b"},"x":{"field":"h","type":"quantitative","scale":{"domain":[-4.012,13.376],"nice":false,"zero":false},"axis":null}}},
{"data":{"values":[{"t":"Correlation: Species vs Metabolites (Spearman)"}]},"mark":{"type":"text","align":"center","baseline":"middle","fontSize":17},
"encoding":{"x":{"datum":3.5,"type":"quantitative","scale":{"domain":[-4.012,13.376],"nice":false,"zero":false},"axis":null},"y":{"datum":-4.39,"type":"quantitative","scale":{"domain":[-4.641,25.51],"nice":false,"zero":false,"reverse":true},"axis":null},"text":{"field":"t"}}},
{"data":{"values":[{"t":"C"}]},"mark":{"type":"text","align":"left","baseline":"middle","fontSize":14},
"encoding":{"x":{"datum":-3.654,"type":"quantitative","scale":{"domain":[-4.012,13.376],"nice":false,"zero":false},"axis":null},"y":{"datum":-3.076,"type":"quantitative","scale":{"domain":[-4.641,25.51],"nice":false,"zero":false,"reverse":true},"axis":null},"text":{"field":"t"}}}
]}
]
}
